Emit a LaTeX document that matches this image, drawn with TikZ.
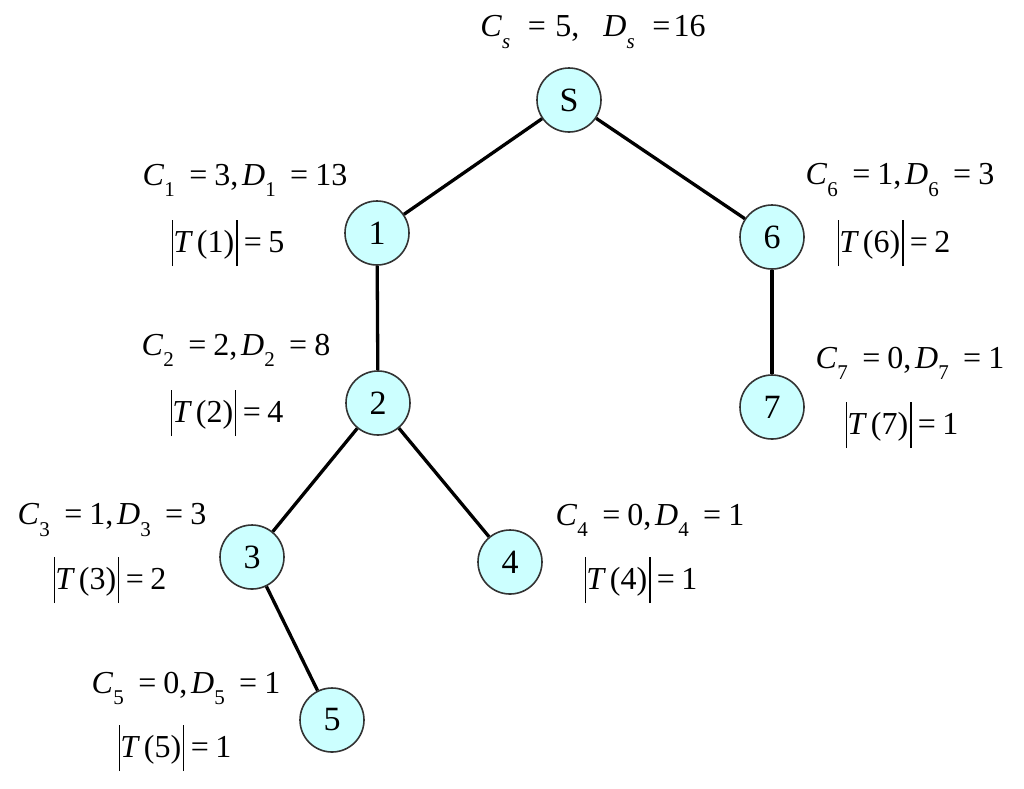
\documentclass[tikz,border=0pt]{standalone}
\usepackage{fontspec}
\setmainfont{Liberation Serif}
\newcommand\Sb[1]{\raisebox{-0.75ex}{\fontsize{21}{21}\selectfont #1}}
\newcommand\Vb{\rule[-14pt]{1.7pt}{46pt}}
\newcommand\Eqq{\hspace{0.45em}=\hspace{0.22em}}
\newcommand\Lab[3]{\textit{C}\Sb{#1}\Eqq #2,\hspace{0.12em}\textit{D}\Sb{#1}\Eqq #3}
\newcommand\Tl[2]{\Vb\textit{T}\hspace{0.12em}(#1)\hspace{0.05em}\Vb\hspace{0.2em}=\hspace{0.2em}#2}
\begin{document}
\begin{tikzpicture}[x=1pt,y=-1pt,
  tnode/.style={circle,draw=black!80,line width=1.6pt,fill={rgb,255:red,204;green,255;blue,255},minimum size=64pt,inner sep=0pt,font=\fontsize{34}{36}\selectfont},
  edge/.style={line width=3.3pt,black},
  lab/.style={inner sep=0pt,anchor=center,font=\fontsize{32}{36}\selectfont}]
\useasboundingbox (0,0) rectangle (1024,788);
\node[tnode] (s) at (569,100) {S};
\node[tnode] (n1) at (377,233) {1};
\node[tnode] (n6) at (772,237) {6};
\node[tnode] (n2) at (378,403) {2};
\node[tnode] (n7) at (772,407) {7};
\node[tnode] (n3) at (252,557) {3};
\node[tnode] (n4) at (510,562) {4};
\node[tnode] (n5) at (332,720) {5};
\draw[edge] (s) -- (n1);
\draw[edge] (s) -- (n6);
\draw[edge] (n1) -- (n2);
\draw[edge] (n6) -- (n7);
\draw[edge] (n2) -- (n3);
\draw[edge] (n2) -- (n4);
\draw[edge] (n3) -- (n5);
\node[lab] (ls) at (593,32) {\textit{C}\Sb{\textit{s}}\hspace{0.55em}=\hspace{0.3em}5,\hspace{0.75em}\textit{D}\Sb{\textit{s}}\hspace{0.55em}=\hspace{0.1em}16};
\node[lab] (l1) at (245,180) {\Lab{1}{3}{13}};
\node[lab] (t1) at (228,243) {\Tl{1}{5}};
\node[lab] (l6) at (900,180) {\Lab{6}{1}{3}};
\node[lab] (t6) at (894,243) {\Tl{6}{2}};
\node[lab] (l2) at (236,350) {\Lab{2}{2}{8}};
\node[lab] (t2) at (227,413) {\Tl{2}{4}};
\node[lab] (l7) at (910,363) {\Lab{7}{0}{1}};
\node[lab] (t7) at (902,425) {\Tl{7}{1}};
\node[lab] (l3) at (112,520) {\Lab{3}{1}{3}};
\node[lab] (t3) at (110,580) {\Tl{3}{2}};
\node[lab] (l4) at (650,520) {\Lab{4}{0}{1}};
\node[lab] (t4) at (641,580) {\Tl{4}{1}};
\node[lab] (l5) at (186,688) {\Lab{5}{0}{1}};
\node[lab] (t5) at (175,748) {\Tl{5}{1}};
\end{tikzpicture}
\end{document}
